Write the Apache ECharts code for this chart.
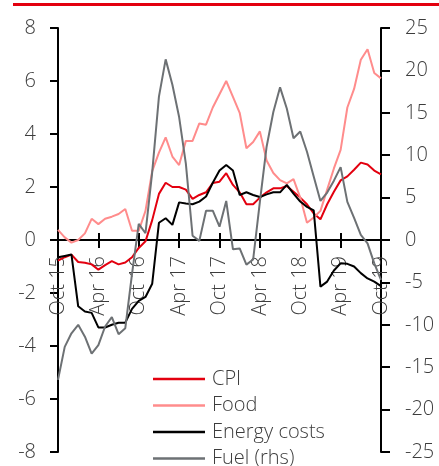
<!DOCTYPE html>
<html>
<head>
<meta charset="utf-8">
<script src="https://cdn.jsdelivr.net/npm/echarts@6/dist/echarts.min.js"></script>
<style>
  html, body { margin: 0; padding: 0; background: #fff; }
  #chart { width: 439px; height: 466px; }
</style>
</head>
<body>
<div id="chart"></div>
<script>
// monthly, Oct 15 .. Oct 19
const months = [
  'Oct 15', 'Nov 15', 'Dec 15', 'Jan 16', 'Feb 16', 'Mar 16', 'Apr 16', 'May 16', 'Jun 16', 'Jul 16', 'Aug 16', 'Sep 16',
  'Oct 16', 'Nov 16', 'Dec 16', 'Jan 17', 'Feb 17', 'Mar 17', 'Apr 17', 'May 17', 'Jun 17', 'Jul 17', 'Aug 17', 'Sep 17',
  'Oct 17', 'Nov 17', 'Dec 17', 'Jan 18', 'Feb 18', 'Mar 18', 'Apr 18', 'May 18', 'Jun 18', 'Jul 18', 'Aug 18', 'Sep 18',
  'Oct 18', 'Nov 18', 'Dec 18', 'Jan 19', 'Feb 19', 'Mar 19', 'Apr 19', 'May 19', 'Jun 19', 'Jul 19', 'Aug 19', 'Sep 19',
  'Oct 19'
];

const cpi = [
  -0.78, -0.65, -0.55, -0.83, -0.86, -0.92, -1.12, -0.95, -0.8, -0.92, -0.85, -0.65,
  -0.3, -0.05, 0.75, 1.74, 2.16, 2.0, 2.0, 1.9, 1.55, 1.7, 1.8, 2.15,
  2.2, 2.52, 2.08, 1.8, 1.35, 1.35, 1.6, 1.8, 1.95, 1.95, 2.04, 1.82,
  1.6, 1.35, 1.0, 0.78, 1.35, 1.82, 2.25, 2.4, 2.65, 2.92, 2.85, 2.62,
  2.48
];

const food = [
  0.38, 0.1, -0.1, 0.0, 0.25, 0.8, 0.6, 0.8, 0.88, 0.98, 1.17, 0.35,
  0.35, 1.1, 2.6, 3.3, 3.87, 3.15, 2.83, 3.74, 3.74, 4.4, 4.35, 5.0,
  5.5, 6.0, 5.4, 4.8, 3.46, 3.7, 4.1, 3.0, 2.53, 2.26, 2.14, 2.3,
  1.6, 0.65, 0.85, 1.1, 1.9, 2.7, 3.4, 5.0, 5.7, 6.8, 7.2, 6.3,
  6.1
];

const energy = [
  -0.65, -0.6, -0.55, -2.5, -2.7, -2.75, -3.3, -3.3, -3.2, -3.12, -3.12, -2.6,
  -2.3, -2.15, -1.65, 0.65, 0.82, 0.57, 1.42, 1.38, 1.35, 1.45, 1.64, 2.16,
  2.62, 2.83, 2.62, 1.7, 1.8, 1.7, 1.62, 1.72, 1.8, 1.8, 2.08, 1.75,
  1.45, 1.25, 1.12, -1.76, -1.57, -1.15, -0.88, -0.9, -1.0, -1.25, -1.45, -1.57,
  -1.74
];

// right-hand scale
const fuel = [
  -16.5, -12.6, -11.0, -10.0, -11.4, -13.4, -12.4, -10.2, -9.1, -11.1, -10.4, -4.0,
  1.9, 0.8, 8.0, 16.9, 21.3, 18.3, 14.5, 9.0, 0.5, -0.1, 3.46, 3.46,
  1.57, 4.6, -1.1, -1.0, -2.9, -2.3, 4.5, 11.0, 15.1, 18.0, 15.5, 12.0,
  12.8, 10.4, 7.5, 4.6, 5.6, 7.0, 8.6, 4.5, 2.6, 0.6, -0.4, -2.75,
  -4.7
];

const seriesNames = ['CPI', 'Food', 'Energy costs', 'Fuel (rhs)'];
const seriesColors = ['#e3000f', '#ff8c8c', '#000000', '#6d7174'];

const font = '"Open Sans", "Noto Sans", sans-serif';
const txt = '#3c3c3c';
const black = { color: '#000', width: 2 };
// month axis runs a little past Oct 19, up to the rhs axis
const monthMax = months.length - 1 + 0.45;

const chart = echarts.init(document.getElementById('chart'));

const line = (name, data, color, yAxisIndex) => ({
  name: name,
  type: 'line',
  data: data,
  xAxisIndex: 0,
  yAxisIndex: yAxisIndex,
  symbol: 'none',
  lineStyle: { color: color, width: 2 },
  itemStyle: { color: color },
  z: 3,
  animation: false
});

chart.setOption({
  animation: false,
  textStyle: { fontFamily: font },
  graphic: [{
    type: 'rect',
    shape: { x: 13, y: 3, width: 426, height: 3 },
    style: { fill: '#e3000f' }
  }],
  grid: [
    // main plot
    { left: 58, right: 58, top: 28, bottom: 14, containLabel: false, outerBoundsMode: 'none' },
    // ends at the zero line, carries the month axis
    { left: 58, right: 58, top: 28, height: 212, containLabel: false, outerBoundsMode: 'none' }
  ],
  legend: {
    orient: 'horizontal',
    left: 153,
    top: 369,
    width: 160,
    padding: 0,
    icon: 'rect',
    itemWidth: 52,
    itemHeight: 2.5,
    itemGap: 6.5,
    data: seriesNames,
    textStyle: { fontFamily: font, fontSize: 20, fontWeight: 300, color: txt, padding: [0, 0, 0, 2] }
  },
  xAxis: [{
    gridIndex: 0,
    type: 'category',
    data: months,
    boundaryGap: false,
    max: monthMax,
    show: false
  }, {
    gridIndex: 1,
    type: 'category',
    data: months,
    boundaryGap: false,
    position: 'bottom',
    max: monthMax,
    axisLine: { onZero: false, lineStyle: black },
    axisTick: { inside: true, interval: 5, length: 7, lineStyle: black },
    axisLabel: { show: false },
    splitLine: { show: false }
  }, {
    gridIndex: 1,
    type: 'category',
    data: months,
    boundaryGap: false,
    position: 'bottom',
    max: monthMax,
    axisLine: { show: false, onZero: false },
    axisTick: { interval: 5, length: 8, lineStyle: black },
    axisLabel: {
      interval: 5,
      rotate: 90,
      margin: 16,
      fontSize: 20,
      fontWeight: 300,
      color: txt,
      fontFamily: font
    },
    splitLine: { show: false }
  }],
  yAxis: [{
    gridIndex: 0,
    type: 'value',
    min: -8,
    max: 8,
    interval: 2,
    axisLine: { show: true, onZero: false, lineStyle: black },
    axisTick: { show: true, length: 8, lineStyle: black },
    axisLabel: { margin: 22, fontSize: 20, fontWeight: 300, color: txt, fontFamily: font },
    splitLine: { show: false }
  }, {
    gridIndex: 0,
    type: 'value',
    min: -25,
    max: 25,
    interval: 5,
    position: 'right',
    axisLine: { show: true, onZero: false, lineStyle: black },
    axisTick: { show: true, length: 9, lineStyle: black },
    axisLabel: { margin: 24, fontSize: 20, fontWeight: 300, color: txt, fontFamily: font },
    splitLine: { show: false }
  }, {
    gridIndex: 1,
    type: 'value',
    min: 0,
    max: 1,
    show: false
  }],
  series: [
    line(seriesNames[0], cpi, seriesColors[0], 0),
    line(seriesNames[1], food, seriesColors[1], 0),
    line(seriesNames[2], energy, seriesColors[2], 0),
    line(seriesNames[3], fuel, seriesColors[3], 1)
  ]
});
</script>
</body>
</html>
